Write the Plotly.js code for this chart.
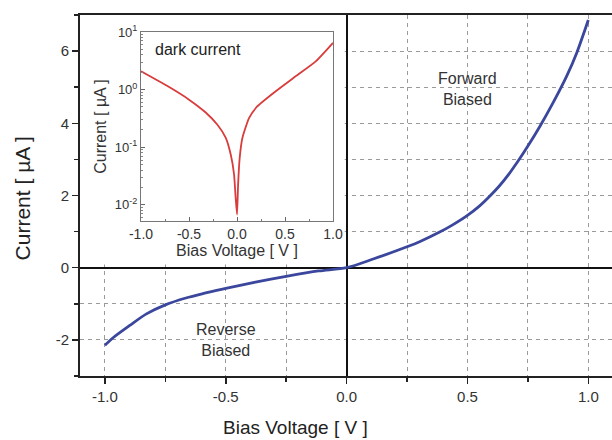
<!DOCTYPE html>
<html>
<head>
<meta charset="utf-8">
<script src="https://cdn.plot.ly/plotly-3.0.1.min.js"></script>
<style>html,body{margin:0;padding:0;background:#fff;}#chart{width:612px;height:440px;}</style>
</head>
<body>
<div id="chart"></div>
<script>
// Main I-V curve (Bias Voltage [V], Current [µA])
const vMain = [-1.0, -0.966, -0.897, -0.828, -0.75, -0.665, -0.583, -0.5, -0.377, -0.25, -0.116, 0.0,
               0.11, 0.25, 0.302, 0.383, 0.437, 0.5, 0.548, 0.589, 0.63, 0.672, 0.706, 0.75,
               0.8, 0.855, 0.91, 0.952, 1.0];
const iMain = [-2.15, -1.94, -1.60, -1.28, -1.03, -0.84, -0.70, -0.57, -0.40, -0.24, -0.09, 0.0,
               0.24, 0.58, 0.72, 0.98, 1.18, 1.45, 1.70, 1.96, 2.25, 2.60, 2.92, 3.37,
               3.92, 4.58, 5.30, 5.95, 6.86];

// Inset: dark current (log scale)
const vDark = [-1.0, -0.72, -0.5, -0.326, -0.204, -0.117, -0.065, -0.031, -0.014, 0.0,
               0.011, 0.028, 0.056, 0.125, 0.21, 0.40, 0.61, 0.82, 1.0];
const iDark = [2.08, 1.14, 0.67, 0.40, 0.245, 0.145, 0.074, 0.034, 0.013, 0.0068,
               0.022, 0.066, 0.145, 0.32, 0.51, 0.93, 1.7, 3.1, 6.5];

// Tick labels
const xTickVals = [-1.0, -0.5, 0.0, 0.5, 1.0];
const xTickText = ['-1.0', '-0.5', '0.0', '0.5', '1.0'];
const yTickVals = [-2, 0, 2, 4, 6];
const yTickText = ['-2', '0', '2', '4', '6'];
const insetYTickVals = [0.01, 0.1, 1, 10];
const insetYTickText = ['10<sup>-2</sup>', '10<sup>-1</sup>', '10<sup>0</sup>', '10<sup>1</sup>'];

// Text
const xTitle = 'Bias Voltage [ V ]';
const yTitle = 'Current [ µA ]';
const forwardLabel = 'Forward<br>Biased';
const reverseLabel = 'Reverse<br>Biased';
const insetLabel = 'dark current';

const FONT = 'Liberation Sans, Arial, Helvetica, sans-serif';
const GRID = '#9a9a9a';

const traces = [
  {x: vMain, y: iMain, type: 'scatter', mode: 'lines', xaxis: 'x', yaxis: 'y',
   line: {color: '#3a479c', width: 2.8, shape: 'spline', smoothing: 0.8}, hoverinfo: 'skip'},
  {x: vDark, y: iDark, type: 'scatter', mode: 'lines', xaxis: 'x2', yaxis: 'y2',
   line: {color: '#d83c3c', width: 1.8, shape: 'spline', smoothing: 0.5}, hoverinfo: 'skip'}
];

const layout = {
  width: 612, height: 440,
  margin: {l: 80, r: 0, t: 15, b: 64},
  paper_bgcolor: '#fff', plot_bgcolor: '#fff',
  showlegend: false,
  font: {family: FONT, color: '#333', size: 14},
  xaxis: {
    domain: [0, 1], anchor: 'y', range: [-1.103, 1.098],
    tickmode: 'array', tickvals: xTickVals, ticktext: xTickText,
    ticks: 'outside', ticklen: 6, tickwidth: 1.5, tickcolor: '#222',
    tickfont: {size: 15, color: '#333'},
    showline: true, linecolor: '#222', linewidth: 2, mirror: true,
    showgrid: true, gridcolor: GRID, gridwidth: 1, griddash: '4px,4px',
    zeroline: true, zerolinecolor: '#111', zerolinewidth: 2,
    minor: {tickmode: 'linear', tick0: 0, dtick: 0.25, ticks: 'outside', ticklen: 4, tickcolor: '#222',
            showgrid: true, gridcolor: GRID, gridwidth: 1, griddash: '4px,4px'}
  },
  yaxis: {
    domain: [0, 1], anchor: 'x', range: [-3, 7],
    tickmode: 'array', tickvals: yTickVals, ticktext: yTickText,
    ticks: 'outside', ticklen: 6, tickwidth: 1.5, tickcolor: '#222',
    tickfont: {size: 15, color: '#333'},
    showline: true, linecolor: '#222', linewidth: 2, mirror: false,
    showgrid: true, gridcolor: GRID, gridwidth: 1, griddash: '4px,4px',
    zeroline: true, zerolinecolor: '#111', zerolinewidth: 2,
    minor: {tickmode: 'linear', tick0: 0, dtick: 1, ticks: 'outside', ticklen: 4, tickcolor: '#222',
            showgrid: true, gridcolor: GRID, gridwidth: 1, griddash: '4px,4px'}
  },
  xaxis2: {
    domain: [0.1147, 0.4756], anchor: 'y2', range: [-1, 1],
    tickmode: 'array', tickvals: xTickVals, ticktext: xTickText,
    ticks: 'inside', ticklen: 4, tickcolor: '#666',
    tickfont: {size: 14, color: '#333'},
    showline: true, linecolor: '#777', linewidth: 1, mirror: true,
    showgrid: false, zeroline: false,
    minor: {tickmode: 'linear', tick0: 0, dtick: 0.25, ticks: 'inside', ticklen: 2, tickcolor: '#777'},
    title: {text: xTitle, font: {size: 16, color: '#333'}, standoff: 2}
  },
  yaxis2: {
    domain: [0.4294, 0.9529], anchor: 'x2', type: 'log', range: [-2.28, 1],
    tickmode: 'array', tickvals: insetYTickVals, ticktext: insetYTickText,
    ticks: 'inside', ticklen: 4, tickcolor: '#666',
    tickfont: {size: 13, color: '#333'},
    showline: true, linecolor: '#777', linewidth: 1, mirror: true,
    showgrid: false, zeroline: false,
    minor: {dtick: 'D1', ticks: 'inside', ticklen: 2, tickcolor: '#888'},
    title: {text: yTitle, font: {size: 16, color: '#333'}, standoff: 4}
  },
  shapes: [
    // white panel behind the inset (hides the main grid there)
    {type: 'rect', xref: 'x', yref: 'y', layer: 'between',
     x0: -1.2, x1: -0.008, y0: 0.09, y1: 7.5,
     fillcolor: '#fff', line: {width: 0}}
  ],
  annotations: [
    {xref: 'paper', yref: 'paper', x: 0.406, y: -0.144, text: xTitle, showarrow: false,
     xanchor: 'center', yanchor: 'middle', font: {size: 19, color: '#222'}},
    {xref: 'paper', yref: 'paper', x: -0.109, y: 0.492, text: yTitle, showarrow: false,
     textangle: -90, xanchor: 'center', yanchor: 'middle', font: {size: 21, color: '#222'}},
    {xref: 'x', yref: 'y', x: 0.5, y: 4.95, text: forwardLabel, showarrow: false,
     xanchor: 'center', yanchor: 'middle', font: {size: 16, color: '#333'}},
    {xref: 'x', yref: 'y', x: -0.5, y: -2.0, text: reverseLabel, showarrow: false,
     xanchor: 'center', yanchor: 'middle', font: {size: 16, color: '#333'}},
    {xref: 'x2', yref: 'y2', x: -0.875, y: 0.69, text: insetLabel, showarrow: false,
     xanchor: 'left', yanchor: 'middle', font: {size: 16, color: '#222'}}
  ]
};

Plotly.newPlot('chart', traces, layout, {displayModeBar: false, staticPlot: true});
</script>
</body>
</html>
